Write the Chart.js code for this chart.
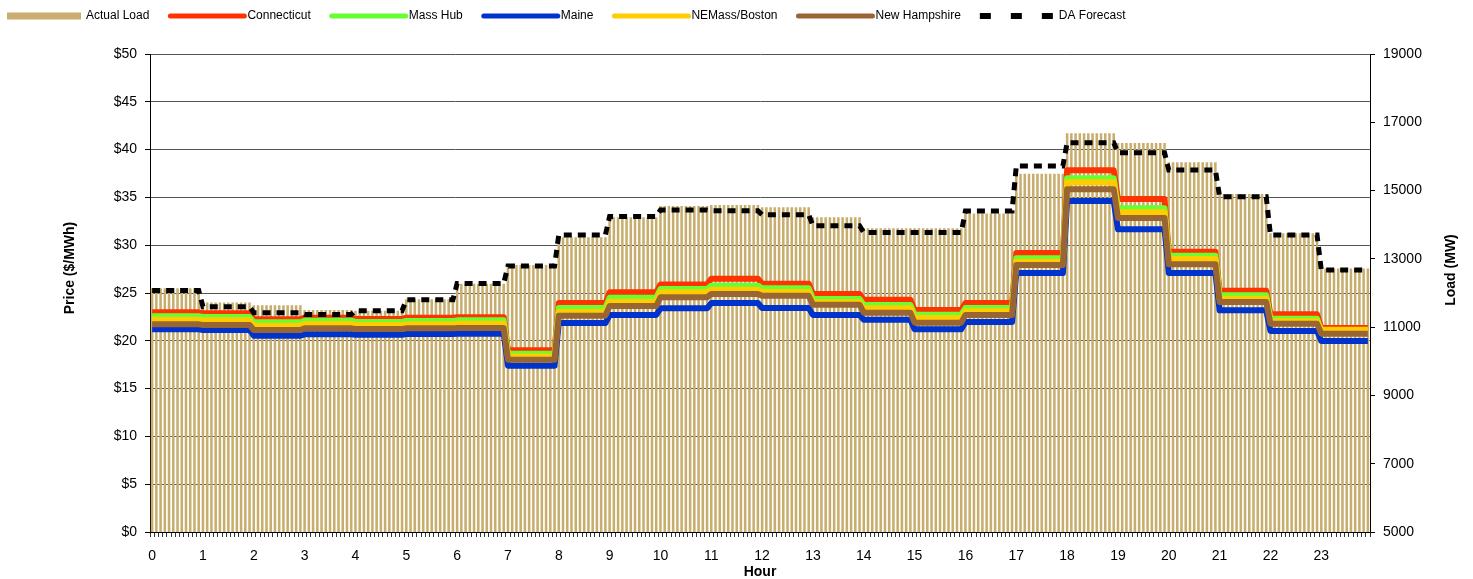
<!DOCTYPE html>
<html>
<head>
<meta charset="utf-8">
<title>Hourly Prices and Load</title>
<script src="https://cdn.jsdelivr.net/npm/chart.js@4.4.0/dist/chart.umd.min.js"></script>
<style>
    body { margin: 0; background: #fff; }
</style>
</head>
<body>
<canvas id="grafik" width="1473" height="579"></canvas>
<script>
// Hourly values, each hour is shown as 12 five-minute intervals
var hours = [0, 1, 2, 3, 4, 5, 6, 7, 8, 9, 10, 11, 12, 13, 14, 15, 16, 17, 18, 19, 20, 21, 22, 23];

// Load (MW)
var actualLoad = [12140, 11720, 11640, 11500, 11480, 11820, 12270, 12820, 13630, 14220, 14550, 14580,
                  14510, 14220, 13900, 13900, 14330, 15490, 16680, 16390, 15830, 14900, 13750, 12720];
var daForecast = [12070, 11600, 11420, 11370, 11480, 11800, 12280, 12790, 13700, 14240, 14430, 14410,
                  14290, 13970, 13770, 13770, 14400, 15720, 16400, 16110, 15600, 14820, 13700, 12670];

// Price ($/MWh)
var connecticut = [22.98, 22.87, 22.25, 22.42, 22.28, 22.42, 22.47, 19.00, 23.95, 25.07, 25.90, 26.50,
                   25.98, 24.90, 24.30, 23.22, 23.95, 29.18, 37.83, 34.83, 29.32, 25.24, 22.77, 21.34];
var massHub = [22.56, 22.49, 21.93, 22.10, 21.97, 22.07, 22.14, 18.65, 23.43, 24.51, 25.42, 25.77,
               25.49, 24.37, 23.74, 22.73, 23.43, 28.63, 37.00, 33.86, 28.90, 24.76, 22.31, 21.00];
var maine = [21.20, 21.13, 20.54, 20.68, 20.64, 20.71, 20.74, 17.40, 21.86, 22.70, 23.40, 23.95,
             23.43, 22.70, 22.21, 21.20, 21.97, 27.09, 34.62, 31.66, 27.09, 23.19, 21.03, 19.98];
var neMassBoston = [22.21, 22.14, 21.58, 21.76, 21.65, 21.72, 21.79, 18.37, 23.01, 24.09, 25.07, 25.35,
                    25.10, 24.02, 23.40, 22.38, 23.08, 28.28, 36.58, 33.44, 28.56, 24.40, 22.04, 21.16];
var newHampshire = [21.72, 21.65, 21.13, 21.30, 21.23, 21.30, 21.34, 18.03, 22.63, 23.64, 24.55, 24.90,
                    24.72, 23.78, 22.94, 21.90, 22.70, 27.93, 35.85, 32.85, 28.00, 24.06, 21.79, 20.75];

var intervalsPerHour = 12;
var fontFamily = '"Liberation Sans", Arial, sans-serif';

// repeat each hourly value for its 12 intervals
function perInterval(values) {
    var out = [];
    values.forEach(function (v) {
        for (var k = 0; k < intervalsPerHour; k++) out.push(v);
    });
    return out;
}

var labels = [];
hours.forEach(function (h) {
    for (var k = 0; k < intervalsPerHour; k++) labels.push(k === 0 ? String(h) : '');
});

function lineSet(label, values, color, order) {
    return {
        type: 'line',
        label: label,
        data: perInterval(values),
        yAxisID: 'y',
        borderColor: color,
        backgroundColor: color,
        borderWidth: 6,
        borderJoinStyle: 'round',
        pointRadius: 0,
        tension: 0,
        order: order
    };
}

var data = {
    labels: labels,
    datasets: [{
        type: 'bar',
        label: 'Actual Load',
        data: perInterval(actualLoad),
        yAxisID: 'y1',
        backgroundColor: '#C8AE6E',
        barPercentage: 0.6,
        categoryPercentage: 1.0,
        order: 7
    },
    lineSet('Connecticut', connecticut, '#FF3300', 6),
    lineSet('Mass Hub', massHub, '#66FF33', 5),
    lineSet('Maine', maine, '#0033CC', 4),
    lineSet('NEMass/Boston', neMassBoston, '#FFCC00', 3),
    lineSet('New Hampshire', newHampshire, '#996633', 2),
    {
        type: 'line',
        label: 'DA Forecast',
        data: perInterval(daForecast),
        yAxisID: 'y1',
        borderColor: '#000',
        backgroundColor: '#000',
        borderWidth: 5,
        borderDash: [8, 6],
        borderCapStyle: 'butt',
        pointRadius: 0,
        tension: 0,
        order: 1
    }]
};

// legend across the top, drawn by hand so the samples are long and thin
var legendaAtas = {
    id: 'legendaAtas',
    afterDraw: function (chart) {
        var ctx = chart.ctx;
        var x = 7, y = 16, sample = 78;
        ctx.save();
        ctx.font = '12px ' + fontFamily;
        ctx.textBaseline = 'middle';
        ctx.textAlign = 'left';
        chart.data.datasets.forEach(function (ds) {
            if (ds.type === 'bar') {
                ctx.fillStyle = ds.backgroundColor;
                ctx.fillRect(x, y - 3.5, sample - 4, 7);
            } else if (ds.borderDash) {
                ctx.strokeStyle = ds.borderColor;
                ctx.lineWidth = 6;
                ctx.lineCap = 'butt';
                ctx.setLineDash([11, 20]);
                ctx.beginPath();
                ctx.moveTo(x, y);
                ctx.lineTo(x + sample, y);
                ctx.stroke();
                ctx.setLineDash([]);
            } else {
                ctx.strokeStyle = ds.borderColor;
                ctx.lineWidth = 5;
                ctx.lineCap = 'round';
                ctx.beginPath();
                ctx.moveTo(x + 2, y);
                ctx.lineTo(x + sample - 2, y);
                ctx.stroke();
            }
            var tx = x + sample + 1;
            ctx.fillStyle = '#000';
            ctx.fillText(ds.label, tx, y);
            x = tx + ctx.measureText(ds.label).width + 19;
        });
        ctx.restore();
    }
};

// both value axis titles read bottom to top
var judulSumbu = {
    id: 'judulSumbu',
    afterDraw: function (chart) {
        var ctx = chart.ctx;
        ctx.save();
        ctx.font = 'bold 14px ' + fontFamily;
        ctx.fillStyle = '#000';
        ctx.textAlign = 'center';
        ctx.textBaseline = 'middle';
        [['Price ($/MWh)', 70, 268], ['Load (MW)', 1451, 270]].forEach(function (t) {
            ctx.save();
            ctx.translate(t[1], t[2]);
            ctx.rotate(-Math.PI / 2);
            ctx.fillText(t[0], 0, 0);
            ctx.restore();
        });
        ctx.restore();
    }
};

var tickFont = { family: fontFamily, size: 14 };

var config = {
    type: 'bar',
    data: data,
    plugins: [legendaAtas, judulSumbu],
    options: {
        responsive: false,
        animation: false,
        devicePixelRatio: 1,
        layout: { padding: { top: 54, left: 0, right: 0, bottom: 0 } },
        plugins: {
            legend: { display: false },
            tooltip: { enabled: false }
        },
        scales: {
            x: {
                type: 'category',
                offset: true,
                grid: { display: true, drawOnChartArea: false, offset: true, tickLength: 5, color: '#333', tickColor: '#333' },
                border: { display: true, color: '#000', width: 1 },
                ticks: {
                    autoSkip: false,
                    maxRotation: 0,
                    minRotation: 0,
                    padding: 11,
                    color: '#000',
                    font: tickFont,
                    callback: function (value, index) {
                        return labels[index];
                    }
                },
                title: {
                    display: true,
                    text: 'Hour',
                    color: '#000',
                    padding: 0,
                    font: { family: fontFamily, size: 14, weight: 'bold', lineHeight: 1 }
                },
                afterFit: function (scale) { scale.height = 47; }
            },
            y: {
                position: 'left',
                min: 0,
                max: 50,
                grid: { color: '#555', tickLength: 5, tickColor: '#000' },
                border: { display: true, color: '#000', width: 1 },
                ticks: {
                    stepSize: 5,
                    padding: 8,
                    color: '#000',
                    font: tickFont,
                    callback: function (value) {
                        return '$' + value;
                    }
                },
                afterFit: function (scale) { scale.width = 150; }
            },
            y1: {
                position: 'right',
                min: 5000,
                max: 19000,
                grid: { drawOnChartArea: false, tickLength: 5, tickColor: '#000' },
                border: { display: true, color: '#000', width: 1 },
                ticks: {
                    stepSize: 2000,
                    padding: 8,
                    color: '#000',
                    font: tickFont,
                    callback: function (value) {
                        return String(value); // no thousands separator
                    }
                },
                afterFit: function (scale) { scale.width = 103; }
            }
        }
    }
};

var canvas = document.getElementById('grafik');
var hourlyChart = new Chart(canvas, config);
</script>
</body>
</html>
